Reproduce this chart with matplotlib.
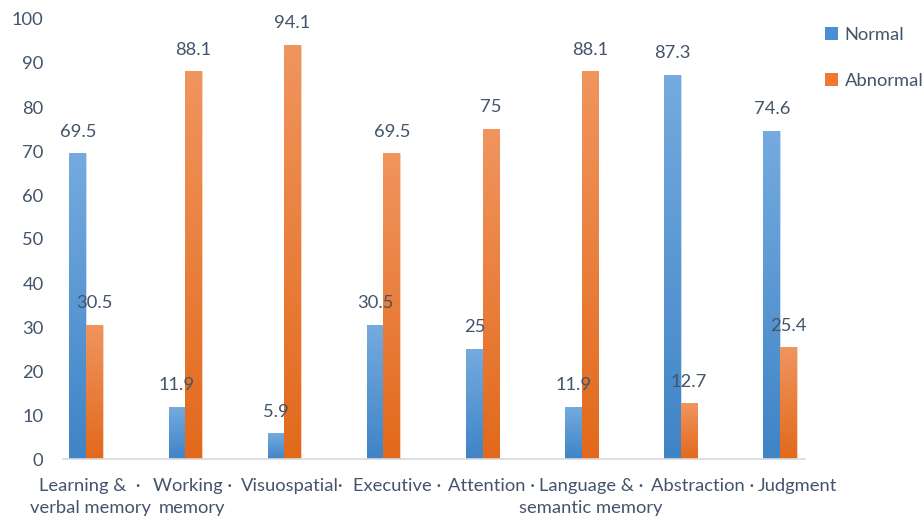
import numpy as np
import matplotlib
matplotlib.use("Agg")
import matplotlib.pyplot as plt
import matplotlib.transforms as mtransforms
from matplotlib.colors import LinearSegmentedColormap
from matplotlib.patches import Patch

categories = ["Learning &  ·\nverbal memory", "Working ·\nmemory", "Visuospatial·",
              "Executive ·", "Attention ·", "Language & ·\nsemantic memory",
              "Abstraction ·", "Judgment"]
normal = [69.5, 11.9, 5.9, 30.5, 25, 11.9, 87.3, 74.6]
abnormal = [30.5, 88.1, 94.1, 69.5, 75, 88.1, 12.7, 25.4]
series_names = ["Normal", "Abnormal"]
yticks = list(range(0, 101, 10))

TXT = "#44546a"
plt.rcParams['font.family'] = ['Lato', 'DejaVu Sans']
FS = 13.2

fig = plt.figure(figsize=(9.24, 5.23), dpi=100)
ax = fig.add_axes([63/924, 1-459/523, 742/924, 440/523])

x = np.arange(len(categories))
w = 0.167
blue_top, blue_bot = "#75abdf", "#3f84c6"
orng_top, orng_bot = "#f0955f", "#e2691b"
b1 = ax.bar(x - w/2, normal, w, color="#5a9ad6", label=series_names[0])
b2 = ax.bar(x + w/2, abnormal, w, color="#ec7a30", label=series_names[1])

grad = np.linspace(1, 0, 256).reshape(-1, 1)
for bars, (top, bot) in ((b1, (blue_top, blue_bot)), (b2, (orng_top, orng_bot))):
    cmap = LinearSegmentedColormap.from_list("g", [bot, top])
    for p in bars:
        x0, y0 = p.get_x(), p.get_y()
        ww, hh = p.get_width(), p.get_height()
        im = ax.imshow(grad, extent=[x0, x0 + ww, y0, y0 + hh], aspect='auto',
                       cmap=cmap, vmin=0, vmax=1, zorder=p.get_zorder(), interpolation='bilinear')
        im.set_clip_path(p)
        p.set_edgecolor((1, 1, 1, 0.35))
        p.set_linewidth(0.8)

for bars, vals in ((b1, normal), (b2, abnormal)):
    for p, v in zip(bars, vals):
        ax.annotate(f"{v:g}", (p.get_x() + p.get_width()/2, p.get_height()),
                    xytext=(0, 15.5), textcoords="offset points", ha='center', va='center',
                    fontsize=FS, color=TXT, zorder=5)

ax.set_xlim(-23/99, 7 + 25/99)
ax.set_ylim(0, 100)
ax.set_yticks(yticks)
ax.set_xticks(x)
ax.set_xticklabels(categories, fontsize=FS, color=TXT, linespacing=1.45)
ax.tick_params(axis='both', length=0, labelsize=FS, labelcolor=TXT)
ax.tick_params(axis='y', pad=14)
ax.tick_params(axis='x', pad=14)
label_shift_px = [4, 7, 8, 14, 9, 9, 22, 18]
for lab, dx in zip(ax.get_xticklabels(), label_shift_px):
    lab.set_transform(lab.get_transform() + mtransforms.ScaledTranslation(dx/100, 0, fig.dpi_scale_trans))
for s in ("top", "right", "left"):
    ax.spines[s].set_visible(False)
ax.spines["bottom"].set_color("#d9d9d9")
ax.spines["bottom"].set_linewidth(1.2)

handles = [Patch(facecolor="#4a8fd4"), Patch(facecolor="#ee7a30")]
leg = fig.legend(handles, series_names, loc='upper left', bbox_to_anchor=(818/924, 1-20/523),
                 frameon=False, fontsize=FS, handlelength=0.7, handleheight=0.7,
                 handletextpad=0.35, labelspacing=1.6, labelcolor=TXT, borderaxespad=0)

fig.savefig("out.png", dpi=100)
